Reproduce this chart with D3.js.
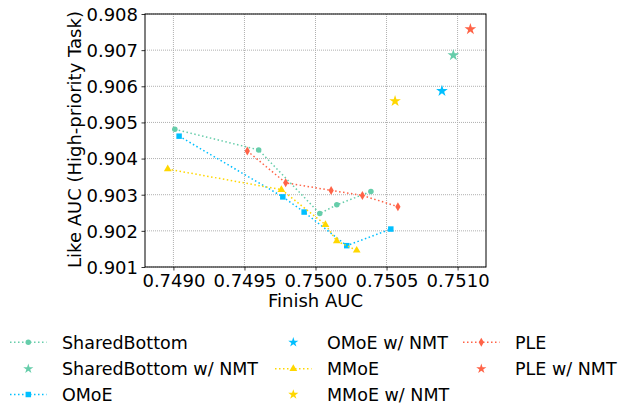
<!DOCTYPE html>
<html lang="en">
<head>
<meta charset="utf-8">
<title>Finish vs Like AUC</title>
<style>
  body { margin: 0; background: white; }
  text { font-family: "DejaVu Sans", sans-serif; }
</style>
</head>
<body>
<svg id="chart" width="622" height="404"></svg>
<script src="https://d3js.org/d3.v7.min.js"></script>
<script>
// data
var xTicks = [0.7490, 0.7495, 0.7500, 0.7505, 0.7510];
var yTicks = [0.901, 0.902, 0.903, 0.904, 0.905, 0.906, 0.907, 0.908];

var sharedBottomX = [0.74901, 0.74960, 0.75003, 0.75015, 0.75039];
var sharedBottomY = [0.90481, 0.90424, 0.90248, 0.90272, 0.90309];
var omoeX = [0.74904, 0.74977, 0.74992, 0.75022, 0.75053];
var omoeY = [0.90462, 0.90294, 0.90252, 0.90159, 0.90205];
var mmoeX = [0.74896, 0.74976, 0.75007, 0.75015, 0.75029];
var mmoeY = [0.90371, 0.90314, 0.90217, 0.90172, 0.90146];
var pleX = [0.74952, 0.74979, 0.75011, 0.75033, 0.75058];
var pleY = [0.90421, 0.90333, 0.90312, 0.90298, 0.90267];

// NMT single points
var nmtNames = ["SharedBottom w/ NMT", "OMoE w/ NMT", "MMoE w/ NMT", "PLE w/ NMT"];
var nmtX = [0.75097, 0.75089, 0.75056, 0.75109];
var nmtY = [0.90686, 0.90587, 0.90559, 0.90758];

var colors = { sb: "#66cdaa", omoe: "#00bfff", mmoe: "#ffd700", ple: "#ff6347" };

var svg = d3.select("#chart");
var margin = { left: 145, right: 136, top: 14, bottom: 137 };
var W = 622, H = 404;

var x = d3.scaleLinear().domain([0.7488, 0.7512]).range([margin.left, W - margin.right]);
var y = d3.scaleLinear().domain([0.901, 0.908]).range([H - margin.bottom, margin.top]);

// grid
var grid = svg.append("g");
grid.selectAll(".gx").data(xTicks).enter().append("line")
  .attr("x1", d => x(d)).attr("x2", d => x(d))
  .attr("y1", margin.top).attr("y2", H - margin.bottom)
  .attr("stroke", "#b0b0b0").attr("stroke-width", 1).attr("stroke-dasharray", "1,1");
grid.selectAll(".gy").data(yTicks).enter().append("line")
  .attr("y1", d => y(d)).attr("y2", d => y(d))
  .attr("x1", margin.left).attr("x2", W - margin.right)
  .attr("stroke", "#b0b0b0").attr("stroke-width", 1).attr("stroke-dasharray", "1,1");

// axes
var xAxis = svg.append("g").attr("transform", "translate(0," + (H - margin.bottom) + ")")
  .call(d3.axisBottom(x).tickValues(xTicks).tickFormat(d3.format(".4f")).tickSizeOuter(0).tickSize(3.5));
var yAxis = svg.append("g").attr("transform", "translate(" + margin.left + ",0)")
  .call(d3.axisLeft(y).tickValues(yTicks).tickFormat(d3.format(".3f")).tickSizeOuter(0).tickSize(3.5));
[xAxis, yAxis].forEach(function(a) {
  a.select(".domain").remove();
  a.selectAll("text").attr("font-size", 18).attr("fill", "#000").style("font-family", "DejaVu Sans, sans-serif");
  a.selectAll("line").attr("stroke", "#000").attr("stroke-width", 0.8);
});
xAxis.selectAll("text").attr("y", 7).attr("dy", "0.71em");
yAxis.selectAll("text").attr("dy", "0.35em").attr("x", -7);

// frame
svg.append("rect")
  .attr("x", margin.left).attr("y", margin.top)
  .attr("width", W - margin.right - margin.left).attr("height", H - margin.bottom - margin.top)
  .attr("fill", "none").attr("stroke", "#000").attr("stroke-width", 1);

// labels
svg.append("text").attr("x", (margin.left + W - margin.right) / 2).attr("y", 306.5)
  .attr("text-anchor", "middle").attr("font-size", 18).text("Finish AUC");
svg.append("text").attr("transform", "translate(81," + ((margin.top + H - margin.bottom) / 2 - 1) + ") rotate(-90)")
  .attr("text-anchor", "middle").attr("font-size", 18).text("Like AUC (High-priority Task)");

// marker shapes
var circleSym = d3.symbol().type(d3.symbolCircle).size(24);
var squareSym = d3.symbol().type(d3.symbolSquare).size(30);
var triSym = d3.symbol().type(d3.symbolTriangle).size(26);
var starSym = d3.symbol().type(d3.symbolStar).size(42);
var starSmall = d3.symbol().type(d3.symbolStar).size(32);
function thinDiamond() {
  return "M0,-4.5L2.6,0L0,4.5L-2.6,0Z";
}

var series = [
  { name: "SharedBottom", xs: sharedBottomX, ys: sharedBottomY, color: colors.sb, sym: circleSym() },
  { name: "OMoE", xs: omoeX, ys: omoeY, color: colors.omoe, sym: squareSym() },
  { name: "MMoE", xs: mmoeX, ys: mmoeY, color: colors.mmoe, sym: triSym() },
  { name: "PLE", xs: pleX, ys: pleY, color: colors.ple, sym: thinDiamond() }
];

var line = d3.line().x(d => x(d[0])).y(d => y(d[1]));

series.forEach(function(s) {
  var pts = s.xs.map((v, i) => [v, s.ys[i]]);
  svg.append("path").datum(pts).attr("d", line)
    .attr("fill", "none").attr("stroke", s.color).attr("stroke-width", 1.5)
    .attr("stroke-dasharray", "1.5,2.5");
  svg.selectAll(null).data(pts).enter().append("path")
    .attr("d", s.sym)
    .attr("transform", d => "translate(" + x(d[0]) + "," + y(d[1]) + ")")
    .attr("fill", s.color);
});

var nmtColors = [colors.sb, colors.omoe, colors.mmoe, colors.ple];
svg.selectAll(null).data(nmtX).enter().append("path")
  .attr("d", starSym())
  .attr("transform", (d, i) => "translate(" + x(d) + "," + y(nmtY[i]) + ")")
  .attr("fill", (d, i) => nmtColors[i]);

// legend (3 columns)
var legendItems = [
  { label: "SharedBottom", color: colors.sb, sym: circleSym(), line: true },
  { label: "SharedBottom w/ NMT", color: colors.sb, sym: starSmall(), line: false },
  { label: "OMoE", color: colors.omoe, sym: squareSym(), line: true },
  { label: "OMoE w/ NMT", color: colors.omoe, sym: starSmall(), line: false },
  { label: "MMoE", color: colors.mmoe, sym: triSym(), line: true },
  { label: "MMoE w/ NMT", color: colors.mmoe, sym: starSmall(), line: false },
  { label: "PLE", color: colors.ple, sym: thinDiamond(), line: true },
  { label: "PLE w/ NMT", color: colors.ple, sym: starSmall(), line: false }
];
var colX = [10, 275, 463];
var rowY = [342.3, 368.8, 394.5];
legendItems.forEach(function(it, i) {
  var c = Math.floor(i / 3), r = i % 3;
  var g = svg.append("g").attr("transform", "translate(" + colX[c] + "," + rowY[r] + ")");
  if (it.line) {
    g.append("line").attr("x1", 0).attr("x2", 36.5).attr("y1", 0).attr("y2", 0)
      .attr("stroke", it.color).attr("stroke-width", 1.5).attr("stroke-dasharray", "1.5,2.5");
  }
  g.append("path").attr("d", it.sym).attr("transform", "translate(18.3,0)").attr("fill", it.color);
  g.append("text").attr("x", 52).attr("y", 0).attr("dy", "0.36em")
    .attr("font-size", 17.5).text(it.label);
});
</script>
</body>
</html>
